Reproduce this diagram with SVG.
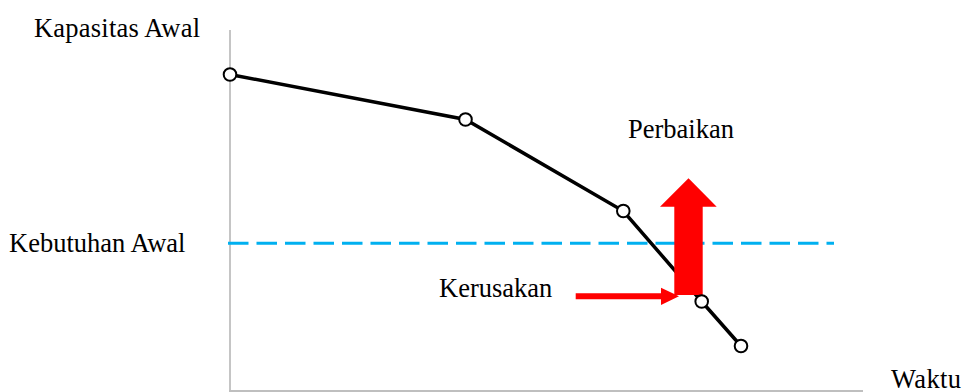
<svg xmlns="http://www.w3.org/2000/svg" width="964" height="392" viewBox="0 0 964 392">
<style>
text{font-family:"Liberation Serif","Times New Roman",serif;font-size:26.5px;fill:#000}
.axis{stroke:#bfbfbf;stroke-width:1.8;fill:none}
.pt{fill:#fff;stroke:#000;stroke-width:2}
</style>
<rect width="964" height="392" fill="#fff"/>
<g id="axes">
<line class="axis" x1="230" y1="30" x2="230" y2="391"/>
<line class="axis" x1="229" y1="391" x2="863" y2="391"/>
</g>
<g id="demand-line">
<line x1="228" y1="243.3" x2="834" y2="243.3" stroke="#00b0f0" stroke-width="3" stroke-dasharray="20.5 8"/>
</g>
<g id="connectors">
<polyline points="230,74.5 465.5,119.5 623.3,211 701.7,301.5 741,346" fill="none" stroke="#000" stroke-width="3.5"/>
</g>
<g id="arrows">
<polygon id="perbaikan-arrow" points="674.3,295 702.7,295 702.7,206.7 716.7,206.7 688.5,178.3 660,206.7 674.3,206.7" fill="#ff0000"/>
<polygon id="kerusakan-arrow" points="575.7,293.3 661,293.3 661,287.7 679,296.3 661,305 661,299.3 575.7,299.3" fill="#ff0000"/>
</g>
<g id="points">
<circle class="pt" cx="230" cy="74.5" r="6.3"/>
<circle class="pt" cx="465.5" cy="119.5" r="6.3"/>
<circle class="pt" cx="623.3" cy="211" r="6.3"/>
<circle class="pt" cx="701.7" cy="301.5" r="6.3"/>
<circle class="pt" cx="741" cy="346" r="6.3"/>
</g>
<g id="labels">
<text x="34" y="36.5" textLength="166">Kapasitas Awal</text>
<text x="9" y="251.5">Kebutuhan Awal</text>
<text x="628" y="138.3">Perbaikan</text>
<text x="439" y="297">Kerusakan</text>
<text x="891" y="387.5" textLength="70">Waktu</text>
</g>
</svg>
